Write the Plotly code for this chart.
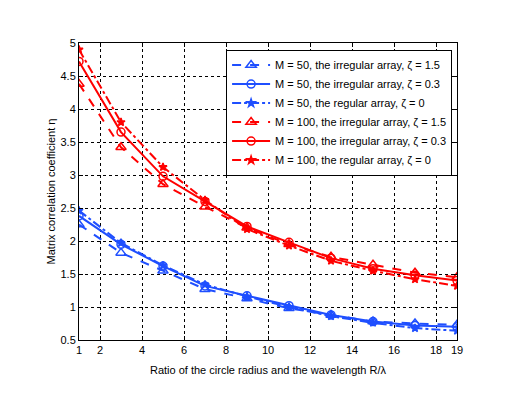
import plotly.graph_objects as go

x = [1, 3, 5, 7, 9, 11, 13, 15, 17, 19]
m50_z15 = [2.25, 1.82, 1.55, 1.27, 1.13, 0.98, 0.88, 0.78, 0.75, 0.73]
m50_z03 = [2.38, 1.95, 1.62, 1.32, 1.17, 1.02, 0.88, 0.78, 0.72, 0.70]
m50_z0 = [2.46, 1.97, 1.63, 1.34, 1.16, 1.00, 0.86, 0.76, 0.68, 0.64]
m100_z15 = [4.38, 3.42, 2.86, 2.52, 2.20, 1.95, 1.76, 1.64, 1.52, 1.45]
m100_z03 = [4.72, 3.65, 2.98, 2.60, 2.22, 1.98, 1.74, 1.58, 1.48, 1.40]
m100_z0 = [4.90, 3.80, 3.12, 2.62, 2.18, 1.93, 1.70, 1.55, 1.42, 1.32]

names = [
    "M = 50, the irregular array, ζ = 1.5",
    "M = 50, the irregular array, ζ = 0.3",
    "M = 50, the regular array, ζ = 0",
    "M = 100, the irregular array, ζ = 1.5",
    "M = 100, the irregular array, ζ = 0.3",
    "M = 100, the regular array, ζ = 0",
]
xticks = [1, 2, 4, 6, 8, 10, 12, 14, 16, 18, 19]
yticks = [0.5, 1, 1.5, 2, 2.5, 3, 3.5, 4, 4.5, 5]

BLUE = "#1f4fff"
RED = "#ff0000"
series = [m50_z15, m50_z03, m50_z0, m100_z15, m100_z03, m100_z0]
colors = [BLUE, BLUE, BLUE, RED, RED, RED]
dashes = ["dash", "solid", "dashdot"] * 2
symbols = ["triangle-up-open", "circle-open", "star"] * 2
sizes = [9, 8, 6] * 2

fig = go.Figure()
for ys, nm, c, d, s, sz in zip(series, names, colors, dashes, symbols, sizes):
    fig.add_trace(go.Scatter(
        x=x, y=ys, name=nm, mode="lines+markers",
        line=dict(color=c, width=2, dash=d),
        marker=dict(symbol=s, size=sz, color=c, line=dict(color=c, width=1.5)),
    ))

FONT = "Liberation Sans, Arial"
axis_common = dict(
    showline=True, linecolor="black", linewidth=1, mirror="ticks",
    ticks="inside", ticklen=4, tickcolor="black",
    showgrid=True, gridcolor="black", griddash="dot", gridwidth=1,
    zeroline=False, tickfont=dict(family=FONT, size=11, color="black"),
)
fig.update_xaxes(range=[1, 19], tickvals=xticks, ticktext=[str(v) for v in xticks],
                 title=dict(text="Ratio of the circle radius and the wavelength R/λ",
                            font=dict(family=FONT, size=11, color="black"),
                            standoff=11),
                 **axis_common)
fig.update_yaxes(range=[0.5, 5], tickvals=yticks, ticktext=[str(v) for v in yticks],
                 title=dict(text="Matrix correlation coefficient η",
                            font=dict(family=FONT, size=11, color="black"),
                            standoff=2),
                 **axis_common)

# the page body has an 8px default margin, so the figure is shrunk by 8px
fig.update_layout(
    width=510, height=389,
    margin=dict(l=71, r=61, t=35, b=57),
    paper_bgcolor="white", plot_bgcolor="white",
    font=dict(family=FONT, size=11, color="black"),
    legend=dict(x=0.987, y=0.978, xanchor="right", yanchor="top",
                bgcolor="white", bordercolor="black", borderwidth=1,
                font=dict(size=11), tracegroupgap=0, itemwidth=38),
    showlegend=True,
)
fig.write_html("out.html")
